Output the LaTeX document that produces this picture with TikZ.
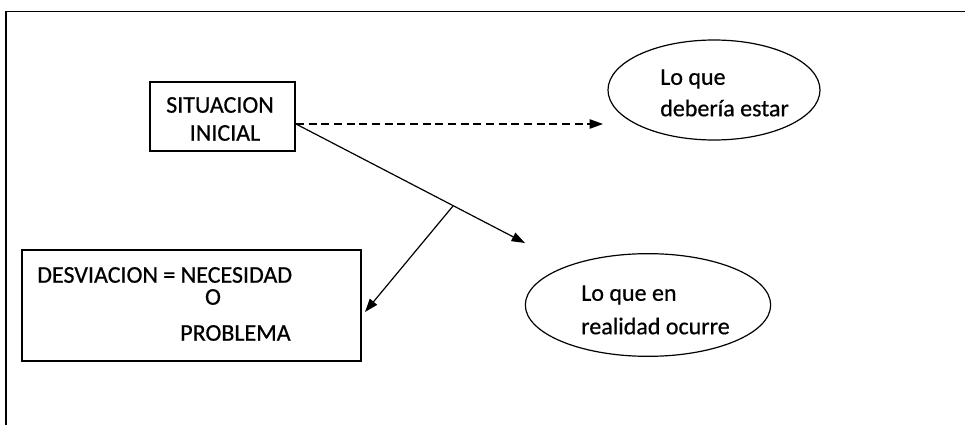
\documentclass[tikz,border=0pt]{standalone}
\usepackage{fontspec}
\setmainfont{Carlito}[FakeBold=0.6]
\usetikzlibrary{arrows.meta,shapes.geometric}
\begin{document}
\begin{tikzpicture}[x=0.75pt,y=-0.75pt,
  every node/.style={font=\fontsize{18}{22}\selectfont, inner sep=0pt},
  ell/.style={draw, ellipse, line width=0.9pt},
  txt/.style={anchor=west},
  conn/.style={line width=0.9pt, -{Triangle[length=10pt,width=7pt]}},
  frame/.style={line width=1.2pt}
]
\useasboundingbox (0,0) rectangle (965,425);
% frame
\draw[frame] (965,11.5) -- (6,11.5) -- (6,425);
% situacion inicial
\node[draw, line width=0.9pt, minimum width=108.75pt, minimum height=51.75pt] (sit) at (222.5,116.5) {};
\node (sitA) at (220,105) {SITUACION};
\node (sitB) at (225,133) {INICIAL};
% ellipse 1
\node[ell, minimum width=159pt, minimum height=75pt] (pert) at (714,90) {};
\node[txt] (pertA) at (660,79) {Lo que};
\node[txt] (pertB) at (660,108) {debería estar};
% ellipse 2
\node[ell, minimum width=184pt, minimum height=77pt] (real) at (648,305) {};
\node[txt] (realA) at (581,295) {Lo que en};
\node[txt] (realB) at (581,326) {realidad ocurre};
% desviacion box
\node[draw, line width=0.9pt, minimum width=254.25pt, minimum height=83.25pt] (desv) at (191.5,305.5) {};
\node[txt] (desvA) at (37,275) {DESVIACION = NECESIDAD};
\node (desvB) at (213,297) {O};
\node[txt] (desvC) at (180,333) {PROBLEMA};
% connectors
\coordinate (s1) at (296,124);
\coordinate (e1) at (603,124);
\coordinate (e2) at (525,243);
\coordinate (br) at (453,206);
\coordinate (e3) at (365,312);
\draw[conn, dashed, dash pattern=on 6pt off 3.5pt] (s1) -- (e1);
\draw[conn] (s1) -- (e2);
\draw[conn] (br) -- (e3);
\end{tikzpicture}
\end{document}
